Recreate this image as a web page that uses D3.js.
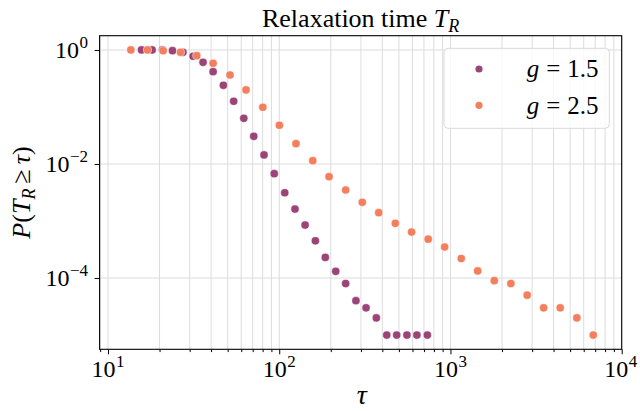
<!DOCTYPE html>
<html>
<head>
<meta charset="utf-8">
<script src="https://cdn.jsdelivr.net/npm/d3@7"></script>
<style>
  html, body { margin: 0; padding: 0; background: #fff; }
  svg { display: block; }
  text { font-family: "Liberation Serif", "DejaVu Serif", serif; fill: #000; }
</style>
</head>
<body>
<svg id="chart" width="640" height="411"></svg>
<script>
// ---- data ----
const seriesNames = ["g = 1.5", "g = 2.5"];
const tauG15 = [15.7, 18.1, 20.8, 23.8, 27.4, 31.4, 35.9, 41.1, 47.2, 54.2, 62.1, 71.0, 81.5, 93.5, 107.7, 123.6, 141.6, 162.6, 185.8, 213.8, 244.3, 280.5, 321.4, 369, 424.6, 485.3, 557, 636.8, 732.8];
const probG15 = [1.0, 1.0, 1.0, 0.97, 0.91, 0.775, 0.608, 0.416, 0.240, 0.126, 0.0633, 0.0306, 0.0144, 0.00676, 0.00313, 0.00162, 0.00085, 0.00045, 0.00023, 0.000131, 0.00008, 0.00004, 0.00003, 0.00002, 0.00001, 0.00001, 0.00001, 0.00001, 0.00001];
const tauG25 = [13.6, 17.0, 21.0, 26.5, 33.0, 41.1, 51.6, 64.0, 80.2, 100.2, 125.3, 157.0, 195.4, 244.3, 305.5, 381.1, 476.4, 592.9, 741.3, 924.7, 1156, 1442, 1803, 2254, 2805, 3499, 4375, 5470, 6823];
const probG25 = [1.0, 1.0, 0.97, 0.91, 0.794, 0.584, 0.364, 0.199, 0.0988, 0.0478, 0.0227, 0.01143, 0.00598, 0.0035, 0.00213, 0.0014, 0.00091, 0.00064, 0.00048, 0.00035, 0.00022, 0.000133, 0.00009, 0.00008, 0.00005, 0.00003, 0.00003, 0.00002, 0.00001];
const xTickExps = [1, 2, 3, 4];
const yTickExps = [0, -2, -4];
const colors = ["#9b4478", "#f47f5f"];

// ---- layout ----
const pL = 99.6, pR = 621.7, pT = 35.7, pB = 349.3;
const svg = d3.select("#chart");
const x = d3.scaleLog().domain([Math.pow(10, 0.951), 1e4]).range([pL, pR]);
const y = d3.scaleLog().domain([Math.pow(10, -5.25), Math.pow(10, 0.25)]).range([pB, pT]);

const xMajors = xTickExps.map(e => Math.pow(10, e));
const xMinors = [];
for (let e = 0; e < 4; e++) for (let m = 2; m <= 9; m++) {
  const v = m * Math.pow(10, e);
  if (v >= x.domain()[0] && v <= x.domain()[1]) xMinors.push(v);
}
const yMajors = yTickExps.map(e => Math.pow(10, e));

// grid
const grid = svg.append("g").attr("stroke", "#dcdcdc").attr("stroke-width", 1);
grid.selectAll(".gx").data(xMajors.concat(xMinors)).join("line")
  .attr("x1", d => x(d)).attr("x2", d => x(d)).attr("y1", pT).attr("y2", pB);
grid.selectAll(".gy").data(yMajors).join("line")
  .attr("y1", d => y(d)).attr("y2", d => y(d)).attr("x1", pL).attr("x2", pR);

// axes tick marks
const axB = svg.append("g").attr("transform", `translate(0,${pB})`)
  .call(d3.axisBottom(x).tickValues(xMajors).tickSize(5).tickFormat(""));
const axBm = svg.append("g").attr("transform", `translate(0,${pB})`)
  .call(d3.axisBottom(x).tickValues(xMinors).tickSize(2.8).tickFormat(""));
const axL = svg.append("g").attr("transform", `translate(${pL},0)`)
  .call(d3.axisLeft(y).tickValues(yMajors).tickSize(5).tickFormat(""));
[axB, axBm, axL].forEach(a => {
  a.select(".domain").remove();
  a.selectAll("line").attr("stroke", "#000").attr("stroke-width", 1);
});

// frame
svg.append("rect").attr("x", pL).attr("y", pT).attr("width", pR - pL).attr("height", pB - pT)
  .attr("fill", "none").attr("stroke", "#000").attr("stroke-width", 1.1);

// tick labels
function powLabel(g, e, xp, yp, anchor) {
  const t = g.append("text").attr("x", xp).attr("y", yp).attr("text-anchor", anchor)
    .attr("font-size", 24);
  t.append("tspan").text("10");
  t.append("tspan").attr("dy", -10).attr("dx", 0.5).attr("font-size", 17).text(e < 0 ? "\u2212" + (-e) : String(e));
}
const xl = svg.append("g");
xTickExps.forEach(e => powLabel(xl, e, x(Math.pow(10, e)) + (e === 4 ? -1 : 0), 377, "middle"));
const yl = svg.append("g");
yTickExps.forEach(e => powLabel(yl, e, 88, y(Math.pow(10, e)) + 8, "end"));

// scatter
const series = [
  { name: seriesNames[0], xs: tauG15, ys: probG15, color: colors[0] },
  { name: seriesNames[1], xs: tauG25, ys: probG25, color: colors[1] }
];
series.forEach(s => {
  svg.append("g").selectAll("circle").data(s.xs.map((v, i) => [v, s.ys[i]])).join("circle")
    .attr("cx", d => x(d[0])).attr("cy", d => y(d[1])).attr("r", 4.1)
    .attr("fill", s.color).attr("stroke", "#fff").attr("stroke-width", 0.5);
});

// title
const title = svg.append("text").attr("x", (pL + pR) / 2).attr("y", 27)
  .attr("text-anchor", "middle").attr("font-size", 26);
title.append("tspan").text("Relaxation time ");
title.append("tspan").attr("font-style", "italic").text("T");
title.append("tspan").attr("font-style", "italic").attr("font-size", 18).attr("dy", 5).text("R");

// x label
svg.append("text").attr("x", (pL + pR) / 2 + 1).attr("y", 404).attr("text-anchor", "middle")
  .attr("font-size", 28).attr("font-style", "italic").text("\u03c4");

// y label
const yLab = svg.append("text").attr("transform", `translate(30,${(pT + pB) / 2}) rotate(-90)`)
  .attr("text-anchor", "middle").attr("font-size", 26);
yLab.append("tspan").attr("font-style", "italic").text("P");
yLab.append("tspan").text("(");
yLab.append("tspan").attr("font-style", "italic").text("T");
yLab.append("tspan").attr("font-style", "italic").attr("font-size", 18).attr("dy", 5).text("R");
yLab.append("tspan").attr("dy", -5).attr("dx", 5).text("\u2265");
yLab.append("tspan").attr("dx", 5).attr("font-style", "italic").text("\u03c4");
yLab.append("tspan").text(")");

// legend
const lg = svg.append("g");
lg.append("rect").attr("x", 444).attr("y", 48.3).attr("width", 165.3).attr("height", 80)
  .attr("rx", 4).attr("fill", "#fff").attr("fill-opacity", 0.8)
  .attr("stroke", "#d9d9d9").attr("stroke-width", 1);
series.forEach((s, i) => {
  const cy = [69, 105.3][i];
  lg.append("circle").attr("cx", 479).attr("cy", cy).attr("r", 3.6).attr("fill", s.color);
  const t = lg.append("text").attr("x", 598.5).attr("y", [77.3, 114][i]).attr("text-anchor", "end")
    .attr("font-size", 25);
  const parts = s.name.split(" = ");
  t.append("tspan").attr("font-style", "italic").text(parts[0]);
  t.append("tspan").attr("dx", 7).text("=");
  t.append("tspan").attr("dx", 7).text(parts[1]);
});
</script>
</body>
</html>
